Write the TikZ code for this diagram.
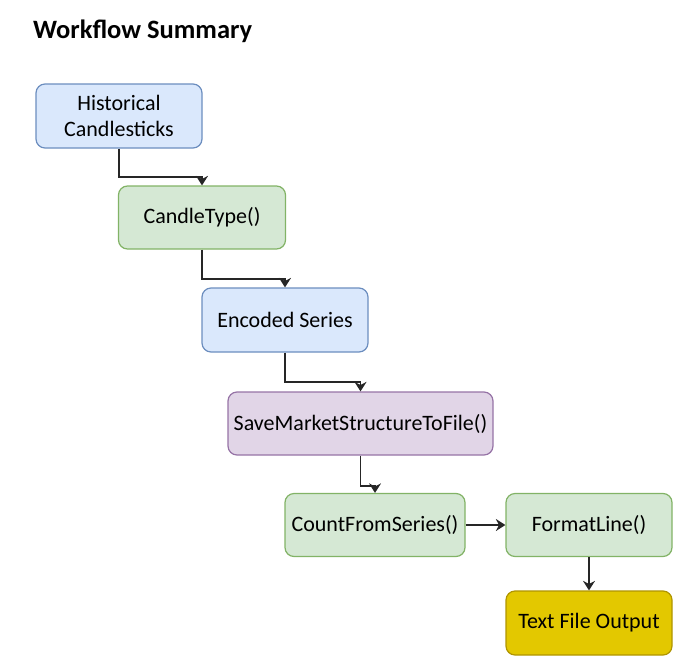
\documentclass[tikz,border=0pt]{standalone}
\usepackage{fontspec}
\setmainfont{Carlito}
\usetikzlibrary{arrows.meta}
\definecolor{bluefill}{HTML}{DAE8FC}
\definecolor{bluedraw}{HTML}{6C8EBF}
\definecolor{greenfill}{HTML}{D5E8D4}
\definecolor{greendraw}{HTML}{82B366}
\definecolor{purplefill}{HTML}{E1D5E7}
\definecolor{purpledraw}{HTML}{9673A6}
\definecolor{yellowfill}{HTML}{E3C800}
\definecolor{yellowdraw}{HTML}{B09500}
\tikzset{
  box/.style={rectangle, rounded corners=9pt, line width=1.2pt, align=center,
    inner sep=0pt, font=\fontsize{22}{26.5}\selectfont, text=black},
  bluebox/.style={box, fill=bluefill, draw=bluedraw},
  greenbox/.style={box, fill=greenfill, draw=greendraw},
  purplebox/.style={box, fill=purplefill, draw=purpledraw},
  yellowbox/.style={box, fill=yellowfill, draw=yellowdraw},
  conn/.style={line width=1.4pt, draw=black!85,
    -{Stealth[length=9.5pt,width=12pt,inset=3pt]}},
}
\begin{document}
\begin{tikzpicture}[x=1pt,y=-1pt]
\useasboundingbox (0,0) rectangle (685,664);
\node[anchor=west, inner sep=0pt, font=\fontsize{26.5}{31}\selectfont\bfseries] (title) at (33,31) {Workflow Summary};
\node[bluebox, minimum width=166pt, minimum height=64pt] (b1) at (119,116) {Historical\\Candlesticks};
\node[greenbox, minimum width=167pt, minimum height=63pt] (b2) at (202,217.5) {CandleType()};
\node[bluebox, minimum width=166pt, minimum height=64pt] (b3) at (285,320) {Encoded Series};
\node[purplebox, minimum width=265pt, minimum height=63pt] (b4) at (360.5,423.5) {SaveMarketStructureToFile()};
\node[greenbox, minimum width=180pt, minimum height=63pt] (b5) at (375,525) {CountFromSeries()};
\node[greenbox, minimum width=166pt, minimum height=63pt] (b6) at (589,525) {FormatLine()};
\node[yellowbox, minimum width=166pt, minimum height=64pt] (b7) at (589,623) {Text File Output};
\coordinate (c1) at (202,177);
\coordinate (c2) at (285,279);
\coordinate (c3) at (360.5,382);
\coordinate (c4) at (375,486);
\draw[conn] (b1.south) |- (c1) -- (b2.north);
\draw[conn] (b2.south) |- (c2) -- (b3.north);
\draw[conn] (b3.south) |- (c3) -- (b4.north);
\draw[conn] (b4.south) |- (c4) -- (b5.north);
\draw[conn] (b5.east) -- (b6.west);
\draw[conn] (b6.south) -- (b7.north);
\end{tikzpicture}
\end{document}
